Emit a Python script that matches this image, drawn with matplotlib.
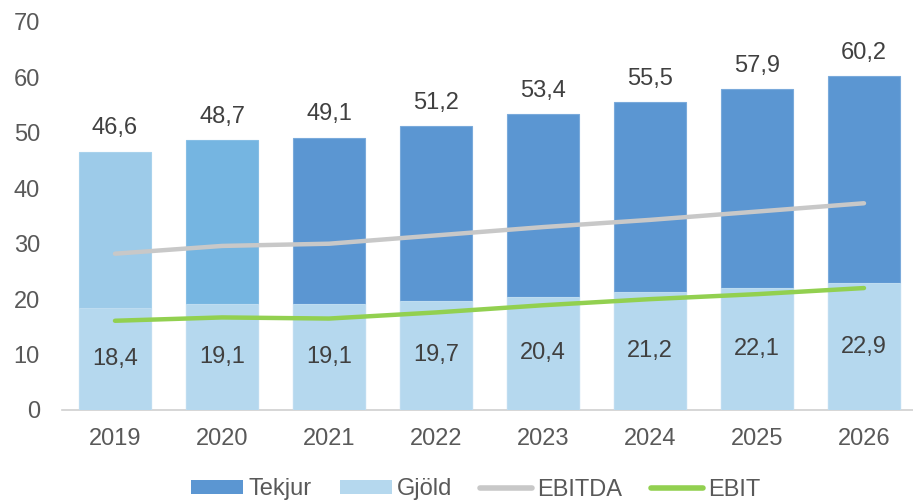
import matplotlib
matplotlib.use("Agg")
import matplotlib.pyplot as plt
from matplotlib.patches import Patch
from matplotlib.lines import Line2D

years = ["2019", "2020", "2021", "2022", "2023", "2024", "2025", "2026"]
tekjur = [46.6, 48.7, 49.1, 51.2, 53.4, 55.5, 57.9, 60.2]
gjold = [18.4, 19.1, 19.1, 19.7, 20.4, 21.2, 22.1, 22.9]
ebitda = [28.2, 29.6, 30.0, 31.5, 33.0, 34.3, 35.8, 37.3]
ebit = [16.1, 16.7, 16.5, 17.6, 18.9, 20.0, 20.9, 22.0]

tekjur_colors = ["#9DCBE9", "#75B5E1"] + ["#5B96D2"] * 6
tekjur_edges = ["#A9D2EC", "#86BEE5"] + ["#7AAADB"] * 6
gjold_color = "#B5D8EE"
ebitda_color = "#C8C8C8"
ebit_color = "#92D050"
value_color = "#404040"
tick_color = "#595959"

plt.rcParams["font.family"] = ["Liberation Sans", "DejaVu Sans"]
FS = 17

fig = plt.figure(figsize=(9.13, 5.0), dpi=100)
ax = fig.add_axes([61.5 / 913, 0.18, 856 / 913, 0.776])

x = list(range(len(years)))
w = 0.665
ax.bar(x, tekjur, width=w, color=tekjur_colors, edgecolor=tekjur_edges,
       linewidth=0.8, zorder=2)
ax.bar(x, gjold, width=w, color=gjold_color, edgecolor="#BEDCF0",
       linewidth=0.8, zorder=3)
ax.plot(x, ebitda, color=ebitda_color, lw=3.2, solid_capstyle="round", zorder=4)
ax.plot(x, ebit, color=ebit_color, lw=3.2, solid_capstyle="round", zorder=4)

def fmt(v):
    return f"{v:.1f}".replace(".", ",")

for xi, t, g in zip(x, tekjur, gjold):
    ax.annotate(fmt(t), (xi, t), xytext=(0, 9), textcoords="offset points",
                ha="center", va="bottom", fontsize=FS, color=value_color, zorder=5)
    ax.text(xi, g / 2, fmt(g), ha="center", va="center", fontsize=FS,
            color=value_color, zorder=5)

ax.set_xlim(-0.5, 7.5)
ax.set_ylim(0, 70)
ax.set_yticks(range(0, 71, 10))
ax.set_xticks(x)
ax.set_xticklabels(years)
ax.tick_params(axis="both", length=0, labelsize=FS, labelcolor=tick_color)
ax.tick_params(axis="y", pad=15.5)
ax.tick_params(axis="x", pad=13)
for s in ["top", "right", "left"]:
    ax.spines[s].set_visible(False)
ax.spines["bottom"].set_color("#D0D0D0")
ax.spines["bottom"].set_linewidth(1.2)

handles = [
    Patch(facecolor="#5B96D2"),
    Patch(facecolor=gjold_color),
    Line2D([0], [0], color=ebitda_color, lw=4, solid_capstyle="round"),
    Line2D([0], [0], color=ebit_color, lw=4, solid_capstyle="round"),
]
labels = ["Tekjur", "Gjöld", "EBITDA", "EBIT"]
fig.legend(handles, labels, loc="center", bbox_to_anchor=(0.521, 0.021),
           ncol=4, frameon=False, fontsize=FS, labelcolor=tick_color,
           handlelength=2.2, handleheight=0.55, handletextpad=0.22,
           columnspacing=1.2, borderpad=0)

fig.savefig("out.png", dpi=100)
